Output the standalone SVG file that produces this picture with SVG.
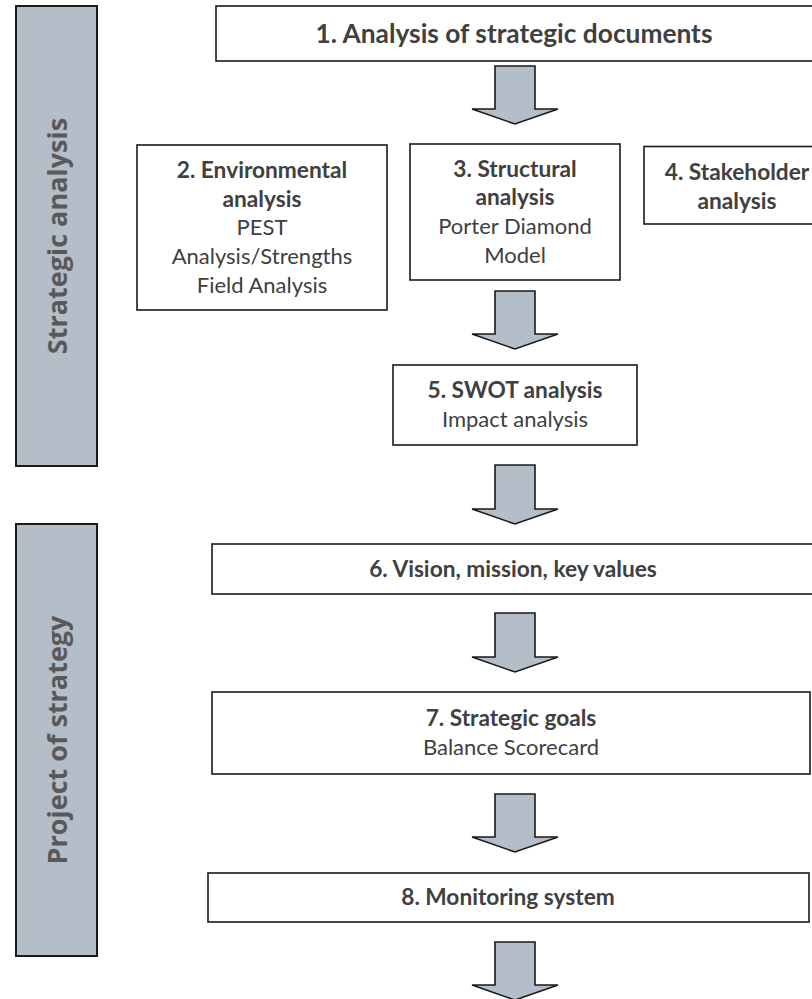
<svg xmlns="http://www.w3.org/2000/svg" width="812" height="999" viewBox="0 0 812 999">
<defs>
<style>
.bar{fill:#b4bec9;stroke:#1a1a1a;stroke-width:2}
.box{fill:#ffffff;stroke:#1a1a1a;stroke-width:1.6}
.arr{fill:#b4bec9;stroke:#1a1a1a;stroke-width:1.6;stroke-linejoin:miter}
.side{font-family:"Open Sans","Noto Sans",sans-serif;font-weight:700;font-size:27px;fill:#595959;text-anchor:middle}
.b{font-family:Lato,"Noto Sans",sans-serif;font-weight:700;font-size:22.7px;fill:#404040;text-anchor:middle}
.r{font-family:Lato,"Noto Sans",sans-serif;font-weight:400;font-size:22px;fill:#404040;text-anchor:middle}
.big{font-size:26.3px}
</style>
</defs>
<rect width="812" height="999" fill="#ffffff"/>
<g id="bar-strategic-analysis">
<rect class="bar" x="16" y="6" width="81" height="460"/>
<text class="side" transform="translate(66.5,236) rotate(-90)">Strategic analysis</text>
</g>
<g id="bar-project-of-strategy">
<rect class="bar" x="16" y="524" width="81" height="432"/>
<text class="side" transform="translate(66.5,740) rotate(-90)">Project of strategy</text>
</g>
<g id="connectors">
<path class="arr" d="M495,66 H535 V109 H558 L515,124 L472,109 H495 Z"/>
<path class="arr" d="M495,291 H535 V334 H558 L515,349 L472,334 H495 Z"/>
<path class="arr" d="M495,465 H535 V509 H558 L515,524 L472,509 H495 Z"/>
<path class="arr" d="M495,613 H535 V657 H558 L515,672 L472,657 H495 Z"/>
<path class="arr" d="M495,794 H535 V837 H558 L515,852 L472,837 H495 Z"/>
<path class="arr" d="M495,942 H535 V985 H558 L515,1000 L472,985 H495 Z"/>
</g>
<g id="node1">
<rect class="box" x="216" y="6" width="600" height="55"/>
<text class="b big" x="514" y="43">1. Analysis of strategic documents</text>
</g>
<g id="node2">
<rect class="box" x="137" y="145" width="250" height="165"/>
<text class="b" x="262" y="178">2. Environmental</text>
<text class="b" x="262" y="206.5">analysis</text>
<text class="r" x="262" y="235">PEST</text>
<text class="r" x="262" y="263.5">Analysis/Strengths</text>
<text class="r" x="262" y="292.5">Field Analysis</text>
</g>
<g id="node3">
<rect class="box" x="410" y="144" width="210" height="136"/>
<text class="b" x="515" y="176.5">3. Structural</text>
<text class="b" x="515" y="205">analysis</text>
<text class="r" x="515" y="234">Porter Diamond</text>
<text class="r" x="515" y="263">Model</text>
</g>
<g id="node4">
<rect class="box" x="644" y="146.5" width="200" height="77.5"/>
<text class="b" x="737" y="180">4. Stakeholder</text>
<text class="b" x="737" y="208.5">analysis</text>
</g>
<g id="node5">
<rect class="box" x="393" y="365" width="244" height="80"/>
<text class="b" x="515" y="398">5. SWOT analysis</text>
<text class="r" x="515" y="427">Impact analysis</text>
</g>
<g id="node6">
<rect class="box" x="212" y="544" width="604" height="50"/>
<text class="b" x="513" y="576.5">6. Vision, mission, key values</text>
</g>
<g id="node7">
<rect class="box" x="212" y="692" width="598" height="82"/>
<text class="b" x="511" y="726">7. Strategic goals</text>
<text class="r" x="511" y="755">Balance Scorecard</text>
</g>
<g id="node8">
<rect class="box" x="208" y="873" width="601" height="49"/>
<text class="b" x="508" y="905">8. Monitoring system</text>
</g>
</svg>
